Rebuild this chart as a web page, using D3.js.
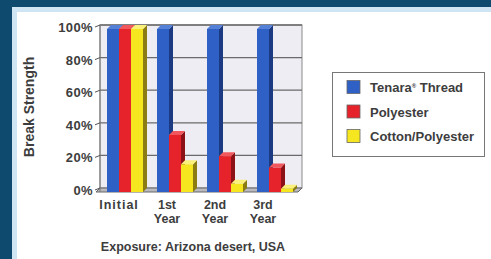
<!DOCTYPE html>
<html>
<head>
<meta charset="utf-8">
<script src="https://cdn.jsdelivr.net/npm/d3@7"></script>
<style>
  html, body { margin: 0; padding: 0; background: #0e4a6d; }
  svg { display: block; }
  text { font-family: "Liberation Sans Narrow", "Arial Narrow", "Liberation Sans", sans-serif; font-weight: bold; fill: #3d3d3d; }
</style>
</head>
<body>
<svg id="chart" width="491" height="259"></svg>
<script>
const periods = ['Initial', '1st Year', '2nd Year', '3rd Year'];
const seriesNames = ['Tenara® Thread', 'Polyester', 'Cotton/Polyester'];
const tenara = [100, 100, 100, 100];
const polyester = [100, 35, 22, 15];
const cottonPoly = [100, 17, 5, 2];
const yTicks = [0, 20, 40, 60, 80, 100];

const values = [tenara, polyester, cottonPoly];
const colors = [
  { front: '#2f60c6', side: '#1b3a82', top: '#5580d8' },
  { front: '#e6222b', side: '#8c1218', top: '#f0585e' },
  { front: '#f6e61f', side: '#8c7d12', top: '#faf07a' }
];

const svg = d3.select('#chart');
const depth = 4;

// frame
svg.append('rect').attr('x', 12).attr('y', 7).attr('width', 479).attr('height', 252).attr('fill', '#cfe5f4');
svg.append('rect').attr('x', 17).attr('y', 12).attr('width', 474).attr('height', 247).attr('fill', '#ffffff');

const x = d3.scaleBand().domain(periods).range([100, 300]).paddingInner(0.28).paddingOuter(0.14);
const y = d3.scaleLinear().domain([0, 100]).range([192, 29]);
const bw = x.bandwidth() / 3;

// back wall
svg.append('rect')
  .attr('x', 100).attr('y', y(100) - depth)
  .attr('width', 202).attr('height', y(0) - y(100))
  .attr('fill', '#eeedf4').attr('stroke', '#8a8a8a').attr('stroke-width', 1);

// floor
svg.append('path')
  .attr('d', `M96,${y(0)} L100,${y(0) - depth} L302,${y(0) - depth} L298,${y(0)} Z`)
  .attr('fill', '#b9b9bf').attr('stroke', '#666').attr('stroke-width', 1);

// gridlines
svg.append('g').selectAll('line')
  .data(yTicks.filter(d => d > 0))
  .join('line')
  .attr('x1', 100).attr('x2', 302)
  .attr('y1', d => y(d) - depth).attr('y2', d => y(d) - depth)
  .attr('stroke', '#6a6a6a').attr('stroke-width', 1.3);

// y axis
const yAxis = svg.append('g').attr('transform', 'translate(100,0)');
yAxis.append('line').attr('x1', 0).attr('x2', 0).attr('y1', y(100) - depth).attr('y2', y(0)).attr('stroke', '#777');
yAxis.selectAll('line.tick')
  .data(yTicks).join('line').attr('class', 'tick')
  .attr('x1', -5).attr('x2', 0)
  .attr('y1', d => y(d) - depth + 2).attr('y2', d => y(d) - depth)
  .attr('stroke', '#555');
yAxis.selectAll('text')
  .data(yTicks).join('text')
  .attr('x', -7).attr('y', d => y(d) - depth + 7)
  .attr('text-anchor', 'end')
  .style('font-size', '13px')
  .style('letter-spacing', '0.4px')
  .text(d => d + '%');

svg.append('text')
  .attr('transform', 'translate(34,107) rotate(-90)')
  .attr('text-anchor', 'middle')
  .style('font-size', '14px')
  .text('Break Strength');

// bars
const groups = svg.append('g').selectAll('g')
  .data(periods)
  .join('g');

groups.each(function (p, i) {
  const g = d3.select(this);
  values.forEach((vals, s) => {
    const v = vals[i];
    const x0 = x(p) + s * bw;
    const yt = y(v);
    const y0 = y(0);
    const c = colors[s];
    g.append('path')
      .attr('d', `M${x0 + bw},${yt} L${x0 + bw + depth},${yt - depth} L${x0 + bw + depth},${y0 - depth} L${x0 + bw},${y0} Z`)
      .attr('fill', c.side);
    g.append('path')
      .attr('d', `M${x0},${yt} L${x0 + depth},${yt - depth} L${x0 + bw + depth},${yt - depth} L${x0 + bw},${yt} Z`)
      .attr('fill', c.top);
    g.append('rect')
      .attr('x', x0).attr('y', yt)
      .attr('width', bw).attr('height', y0 - yt)
      .attr('fill', c.front);
  });
});

// x labels
const labelX = (d, i) => x(d) + x.bandwidth() / 2 - 6 - 2 * i;
svg.append('g').selectAll('text')
  .data(periods)
  .join('text')
  .attr('y', 209)
  .attr('text-anchor', 'middle')
  .style('font-size', '12.5px')
  .each(function (d, i) {
    const parts = d.split(' ');
    d3.select(this).selectAll('tspan')
      .data(parts)
      .join('tspan')
      .attr('x', labelX(d, i))
      .attr('dy', (t, k) => k === 0 ? 0 : 14)
      .style('letter-spacing', d === 'Initial' ? '1px' : null)
      .text(t => t);
  });

svg.append('text')
  .attr('x', 193).attr('y', 251)
  .attr('text-anchor', 'middle')
  .style('font-size', '12.5px')
  .text('Exposure: Arizona desert, USA');

// legend
const legend = svg.append('g');
legend.append('rect')
  .attr('x', 332.5).attr('y', 72.5).attr('width', 152).attr('height', 84)
  .attr('fill', '#fff').attr('stroke', '#777').attr('stroke-width', 1);
const ly = d3.scalePoint().domain(seriesNames).range([87, 136]);
legend.selectAll('rect.sw')
  .data(seriesNames).join('rect').attr('class', 'sw')
  .attr('x', 347).attr('y', d => ly(d) - 6.5)
  .attr('width', 13).attr('height', 13)
  .attr('fill', (d, i) => colors[i].front)
  .attr('stroke', '#666').attr('stroke-width', 0.8);
legend.selectAll('text')
  .data(seriesNames).join('text')
  .attr('x', 370).attr('y', d => ly(d) + 5)
  .style('font-size', '13px')
  .each(function (d) {
    const t = d3.select(this);
    if (d.includes('®')) {
      const [a, b] = d.split('®');
      t.append('tspan').text(a);
      t.append('tspan').attr('dy', -4).style('font-size', '6px').text('®');
      t.append('tspan').attr('dy', 4).text(b);
    } else {
      t.text(d);
    }
  });
</script>
</body>
</html>
